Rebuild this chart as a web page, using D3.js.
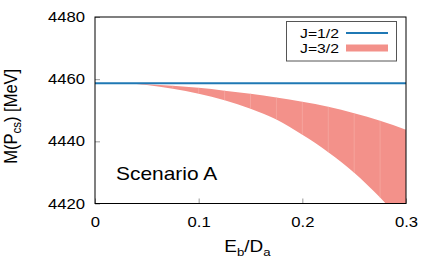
<!DOCTYPE html>
<html>
<head>
<meta charset="utf-8">
<script src="https://cdn.jsdelivr.net/npm/d3@7"></script>
<style>
  body { margin: 0; background: #fff; }
  text { font-family: "Liberation Sans", Arial, Helvetica, sans-serif; fill: #000; }
</style>
</head>
<body>
<div id="chart"></div>
<script>
// values
let xTicks = [0, 0.1, 0.2, 0.3],
    yTicks = [4420, 4440, 4460, 4480],
    jHalf = 4458.7,
    bandX = [0.03, 0.05, 0.075, 0.1, 0.125, 0.15, 0.175, 0.2, 0.225, 0.25, 0.275, 0.3],
    bandHi = [4458.7, 4458.4, 4457.9, 4457.2, 4456.3, 4455.3, 4454.1, 4452.7, 4451.1, 4449.0, 4446.6, 4443.7],
    bandLo = [4458.7, 4458.1, 4456.9, 4455.3, 4453.2, 4450.5, 4447.0, 4442.1, 4436.5, 4429.9, 4421.9, 4412.7];

let W = 436, H = 273,
    margin = {top: 17, right: 30, left: 95, bottom: 69.5},
    width = W - margin.left - margin.right,
    height = H - margin.top - margin.bottom,
    sx = 1.15; // text in the picture is a bit wide

let blue = "#1f78b4", salmon = "#f3918a";

let x = d3.scaleLinear().domain([0, 0.3]).range([0, width]);
let y = d3.scaleLinear().domain([4420, 4480]).range([height, 0]);

let svg = d3.select("#chart").append("svg")
  .attr("width", W).attr("height", H);

svg.append("defs").append("clipPath").attr("id", "clip")
  .append("rect").attr("width", width).attr("height", height);

let g = svg.append("g")
  .attr("transform", "translate(" + margin.left + "," + margin.top + ")");

let band = bandX.map((d, i) => ({x: d, hi: bandHi[i], lo: bandLo[i]}));

let area = d3.area()
  .x(d => x(d.x))
  .y0(d => y(d.lo))
  .y1(d => y(d.hi))
  .curve(d3.curveMonotoneX);

let plot = g.append("g").attr("clip-path", "url(#clip)");
plot.append("path")
  .datum(band)
  .attr("fill", salmon)
  .attr("d", area);

// faint stripes of the filled band
plot.selectAll(".stripe").data(band.slice(2))
  .enter().append("line")
  .attr("x1", d => x(d.x)).attr("x2", d => x(d.x))
  .attr("y1", d => y(d.hi)).attr("y2", d => y(d.lo))
  .attr("stroke", "#f7b0a9").attr("stroke-width", 0.6);

plot.append("line")
  .attr("x1", x(0)).attr("x2", x(0.3))
  .attr("y1", y(jHalf)).attr("y2", y(jHalf))
  .attr("stroke", blue).attr("stroke-width", 2);

// axes
let yAxis = g.append("g")
  .call(d3.axisLeft(y).tickValues(yTicks).tickSizeInner(-5).tickSizeOuter(0).tickPadding(8.7).tickFormat(d3.format("d")));
let xAxis = g.append("g")
  .attr("transform", "translate(0," + height + ")")
  .call(d3.axisBottom(x).tickValues(xTicks).tickSizeInner(-5).tickSizeOuter(0).tickPadding(10).tickFormat(d => d === 0 ? "0" : d3.format(".1f")(d)));

[yAxis, xAxis].forEach(a => {
  a.select(".domain").remove();
  a.selectAll(".tick line").attr("stroke", "#999");
  a.selectAll(".tick text")
    .style("font-size", "14.5px")
    .attr("fill", "#000")
    .attr("transform", "scale(" + sx + ",1)");
});
xAxis.selectAll(".tick text").attr("dy", "0.9em");

g.append("rect")
  .attr("width", width).attr("height", height)
  .attr("fill", "none").attr("stroke", "#000").attr("stroke-width", 1);

// labels
let ylab = svg.append("text")
  .attr("transform", "translate(16.5," + (margin.top + height / 2 + 6) + ") rotate(-90) scale(1," + sx + ")")
  .attr("text-anchor", "middle")
  .style("font-size", "16.5px");
ylab.append("tspan").text("M(P");
ylab.append("tspan").attr("dy", 4).style("font-size", "11.5px").text("cs");
ylab.append("tspan").attr("dy", -4).text(") [MeV]");

let xlab = svg.append("text")
  .attr("transform", "translate(" + (margin.left + width / 2 - 3) + ",252) scale(" + sx + ",1)")
  .attr("text-anchor", "middle")
  .style("font-size", "16.5px");
xlab.append("tspan").text("E");
xlab.append("tspan").attr("dy", 4).style("font-size", "11.5px").text("b");
xlab.append("tspan").attr("dy", -4).text("/D");
xlab.append("tspan").attr("dy", 4).style("font-size", "11.5px").text("a");

svg.append("text")
  .attr("transform", "translate(116,180) scale(" + sx + ",1)")
  .style("font-size", "18.2px")
  .text("Scenario A");

// legend
let leg = svg.append("g");
leg.append("rect")
  .attr("x", 286.5).attr("y", 21.5).attr("width", 110).attr("height", 39.5)
  .attr("fill", "#fff").attr("stroke", "#555").attr("stroke-width", 1);
let items = [{name: "J=1/2", color: blue, h: 2}, {name: "J=3/2", color: salmon, h: 7}];
items.forEach((d, i) => {
  let cy = 33 + i * 15;
  leg.append("text")
    .attr("transform", "translate(339," + (cy + 5) + ") scale(" + sx + ",1)")
    .attr("text-anchor", "end")
    .style("font-size", "13.7px")
    .text(d.name);
  leg.append("rect")
    .attr("x", 346).attr("y", cy - d.h / 2).attr("width", 42).attr("height", d.h)
    .attr("fill", d.color);
});
</script>
</body>
</html>
